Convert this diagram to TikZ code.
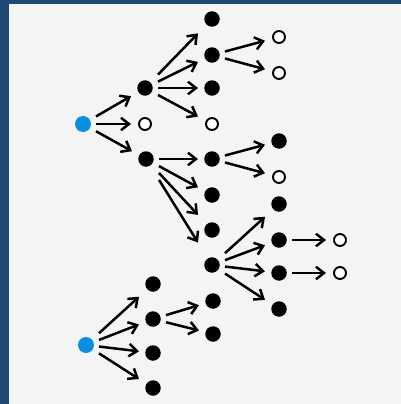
\documentclass[tikz,border=0pt]{standalone}
\usetikzlibrary{arrows.meta}
\definecolor{frame}{RGB}{30,73,115}
\definecolor{bg}{RGB}{244,244,244}
\definecolor{rootblue}{RGB}{10,143,224}
\tikzset{
  full/.style={circle,fill=black,minimum size=15.5pt,inner sep=0pt},
  open/.style={circle,draw=black,fill=white,line width=1.9pt,minimum size=12pt,inner sep=0pt},
  rootnode/.style={circle,fill=rootblue,minimum size=16pt,inner sep=0pt},
  arr/.style={line width=2.5pt,-{Straight Barb[length=8pt,width=12.5pt,line width=2.5pt]}}
}
% edge clipped horizontally: starts 13pt right of source, ends 14pt left of target
\newcommand{\hedge}[2]{%
  \path (#1.center) ++(13,0) coordinate (hsa) ++(0,10) coordinate (hsb);
  \path (#2.center) ++(-14,0) coordinate (hea) ++(0,10) coordinate (heb);
  \draw[arr] (intersection of #1.center--#2.center and hsa--hsb) --
             (intersection of #1.center--#2.center and hea--heb);}
\begin{document}
\begin{tikzpicture}[x=1pt,y=-1pt]
\useasboundingbox (0,0) rectangle (401,404);
\fill[bg] (0,0) rectangle (401,404);
\fill[frame] (0,0) rectangle (401,3.7);
\fill[frame] (0,0) rectangle (8.7,404);
% tree 1
\node[rootnode] (r1) at (83,124) {};
\node[full] (a1) at (145,88) {};
\node[open] (a2) at (145,124) {};
\node[full] (a3) at (146,159) {};
\node[full] (b1) at (212,19) {};
\node[full] (b2) at (212,55) {};
\node[full] (b3) at (212,88) {};
\node[open] (b4) at (212,124) {};
\node[full] (b5) at (212,159) {};
\node[full] (b6) at (212,195) {};
\node[full] (b7) at (212,230) {};
\node[full] (b8) at (212,265) {};
\node[open] (c1) at (279,37) {};
\node[open] (c2) at (279,73) {};
\node[full] (c3) at (279,141) {};
\node[open] (c4) at (279,177) {};
\node[full] (c5) at (279,204) {};
\node[full] (c6) at (279,240) {};
\node[full] (c7) at (279,273) {};
\node[full] (c8) at (279,309) {};
\node[open] (d1) at (340,240) {};
\node[open] (d2) at (340,273) {};
\hedge{r1}{a1}
\hedge{r1}{a2}
\hedge{r1}{a3}
\hedge{a1}{b1}
\hedge{a1}{b2}
\hedge{a1}{b3}
\hedge{a1}{b4}
\hedge{a3}{b5}
\hedge{a3}{b6}
\hedge{a3}{b7}
\hedge{a3}{b8}
\hedge{b2}{c1}
\hedge{b2}{c2}
\hedge{b5}{c3}
\hedge{b5}{c4}
\hedge{b8}{c5}
\hedge{b8}{c6}
\hedge{b8}{c7}
\hedge{b8}{c8}
\hedge{c6}{d1}
\hedge{c7}{d2}
% tree 2
\node[rootnode] (r2) at (86,345) {};
\node[full] (e1) at (153,284) {};
\node[full] (e2) at (153,319) {};
\node[full] (e3) at (153,353) {};
\node[full] (e4) at (153,388) {};
\node[full] (f1) at (213,301) {};
\node[full] (f2) at (213,334) {};
\hedge{r2}{e1}
\hedge{r2}{e2}
\hedge{r2}{e3}
\hedge{r2}{e4}
\hedge{e2}{f1}
\hedge{e2}{f2}
\end{tikzpicture}
\end{document}
